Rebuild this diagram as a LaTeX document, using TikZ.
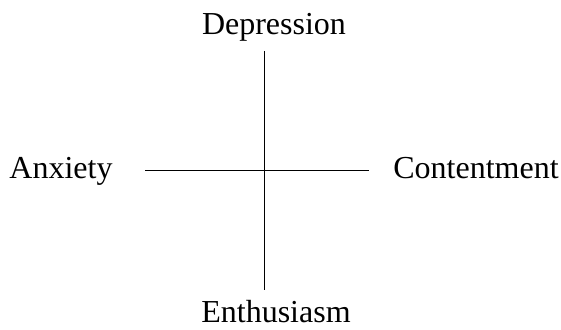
\documentclass[tikz,border=0pt]{standalone}
\usepackage{fontspec}
\setmainfont{Liberation Serif}
\usepackage{tikz}
\usetikzlibrary{positioning}
\tikzset{lbl/.style={anchor=base,inner sep=0pt,font=\fontsize{16}{19}\selectfont}}

\begin{document}
\begin{tikzpicture}[x=0.5pt,y=-0.5pt]
\useasboundingbox(0,0) rectangle (561,330);
\coordinate(top) at (264,51);
\coordinate(bot) at (264,290);
\coordinate(lft) at (145,170);
\coordinate(rgt) at (369,170);
\draw(top)--(bot);
\draw(lft)--(rgt);
\node[lbl](dep) at (274,35){Depression};
\node[lbl](anx) at (61,179){Anxiety};
\node[lbl](con) at (476,179){Contentment};
\node[lbl](ent) at (276,323){Enthusiasm};
\end{tikzpicture}
\end{document}
